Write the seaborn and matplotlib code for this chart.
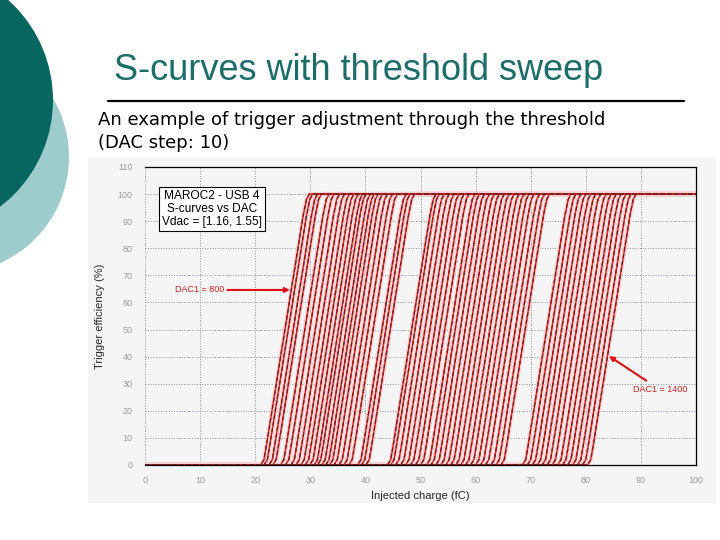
import numpy as np
import pandas as pd
import matplotlib
matplotlib.use("Agg")
import matplotlib.pyplot as plt
from matplotlib.patches import Circle, Rectangle
import seaborn as sns

# DAC1 settings swept with step 10
dac_values = list(range(800, 1410, 10))

# 50% points of each S-curve (fC)
thresholds = [25.4, 26.0, 26.9, 27.6, 29.0, 29.9, 30.9, 31.8, 32.7, 33.5,
              34.3, 35.1, 35.7, 36.5, 37.2, 37.9, 38.7, 39.6, 40.5, 41.4,
              43.0, 43.7, 44.5, 48.4, 49.0, 49.9, 50.8, 51.7, 52.6, 53.5,
              54.4, 55.5, 56.3, 57.2, 58.1, 59.0, 59.9, 60.8, 61.7, 62.6,
              63.5, 64.4, 65.3, 66.2, 67.2, 68.1, 69.0, 72.9, 73.8, 74.7,
              75.6, 76.5, 77.4, 78.3, 79.3, 80.2, 81.1, 82.0, 82.9, 83.8,
              84.7]

# shape of one S-curve around its 50% point
profile_offset = [-4.4, -3.8, -3.3, 0.0, 3.3, 3.9, 4.4]
profile_eff = [0, 2, 8, 50, 92, 98, 100]

charge_min, charge_max = 0, 100


def build_frame():
    rows = []
    for dac, t in zip(dac_values, thresholds):
        rows.append((dac, charge_min, 0))
        for off, eff in zip(profile_offset, profile_eff):
            rows.append((dac, t + off, eff))
        rows.append((dac, charge_max, 100))
    return pd.DataFrame(rows, columns=["dac", "charge", "eff"])


df = build_frame()

sns.set_style("white")
plt.rcParams["font.family"] = ["Liberation Sans", "DejaVu Sans"]
plt.rcParams["text.color"] = "black"

fig = plt.figure(figsize=(7.2, 5.4), dpi=100)
fig.patch.set_facecolor("white")

# slide background: circles, title, subtitle (pixel coordinates)
bg = fig.add_axes([0, 0, 1, 1], zorder=0)
bg.set_xlim(0, 720)
bg.set_ylim(540, 0)
bg.axis("off")
bg.add_patch(Circle((-47, 157), 116, color="#9ecbcc", lw=0))
bg.add_patch(Circle((-81, 100), 134, color="#07665f", lw=0))
bg.add_patch(Rectangle((88, 157), 628, 346, color="#f5f5f5", lw=0))
bg.text(114, 71, "S-curves with threshold sweep", fontsize=26, color="#1c6d6a",
        ha="left", va="center")
bg.plot([108, 684], [101, 101], color="black", lw=1.6)
bg.text(98, 120, "An example of trigger adjustment through the threshold",
        fontsize=13, family="DejaVu Sans", ha="left", va="center", color="black")
bg.text(98, 143, "(DAC step: 10)", fontsize=13, family="DejaVu Sans",
        ha="left", va="center", color="black")

ax = fig.add_axes([0.2014, 0.1389, 0.7653, 0.5519], zorder=1)
ax.set_facecolor("#f5f5f5")

sns.lineplot(data=df, x="charge", y="eff", units="dac", estimator=None,
             sort=False, color="#f8d2d2", lw=3.0, ax=ax)
sns.lineplot(data=df, x="charge", y="eff", units="dac", estimator=None,
             sort=False, color="#d42424", lw=1.0, ax=ax)
sns.lineplot(data=df, x="charge", y="eff", units="dac", estimator=None,
             sort=False, color="#7e1e1e", lw=1.0, ax=ax,
             linestyle=(0, (3, 2)))

ax.set_xlim(0, 100)
ax.set_ylim(0, 110)
ax.set_xticks(np.arange(0, 101, 10))
ax.set_xticks(np.arange(0, 101, 2), minor=True)
ax.set_yticks(np.arange(0, 111, 10))
ax.set_yticks(np.arange(0, 111, 5), minor=True)
ax.tick_params(axis="x", which="major", direction="in", length=4, width=0.8,
               labelsize=6.5, labelcolor="#9a9a9a", pad=8)
ax.tick_params(axis="x", which="minor", direction="in", length=3, width=0.8)
ax.tick_params(axis="y", which="major", direction="out", length=6, width=0.8,
               labelsize=6.5, labelcolor="#9a9a9a", pad=3)
ax.tick_params(axis="y", which="minor", direction="out", length=3, width=0.8)
ax.grid(True, which="major", linestyle=":", color="#8c8ca8", lw=0.7)
ax.set_axisbelow(True)
for side in ["top", "right", "bottom"]:
    ax.spines[side].set_visible(True)
    ax.spines[side].set_color("black")
    ax.spines[side].set_linewidth(0.9)
ax.spines["left"].set_visible(False)

ax.set_xlabel("Injected charge (fC)", fontsize=8, labelpad=4)
ax.set_ylabel("Trigger efficiency (%)", fontsize=8, labelpad=9)

ax.text(12.2, 94.5, "MAROC2 - USB 4\nS-curves vs DAC\nVdac = [1.16, 1.55]",
        fontsize=8.6, ha="center", va="center", linespacing=1.1, zorder=5,
        bbox=dict(boxstyle="square,pad=0.25", fc="white", ec="black", lw=0.8))

ax.annotate("DAC1 = 800", xy=(26.3, 64.6), xytext=(5.4, 64.6),
            fontsize=6.5, color="#cc2222", va="center", ha="left", zorder=5,
            arrowprops=dict(arrowstyle="-|>", color="#dd1111", lw=1.5,
                            mutation_scale=7, shrinkA=0, shrinkB=0))
ax.annotate("DAC1 = 1400", xy=(84.2, 40.2), xytext=(88.6, 27.7),
            fontsize=6.5, color="#cc2222", va="center", ha="left", zorder=5,
            arrowprops=dict(arrowstyle="-|>", color="#dd1111", lw=1.5,
                            mutation_scale=7, shrinkA=2, shrinkB=0))

fig.savefig("out.png", dpi=100)
